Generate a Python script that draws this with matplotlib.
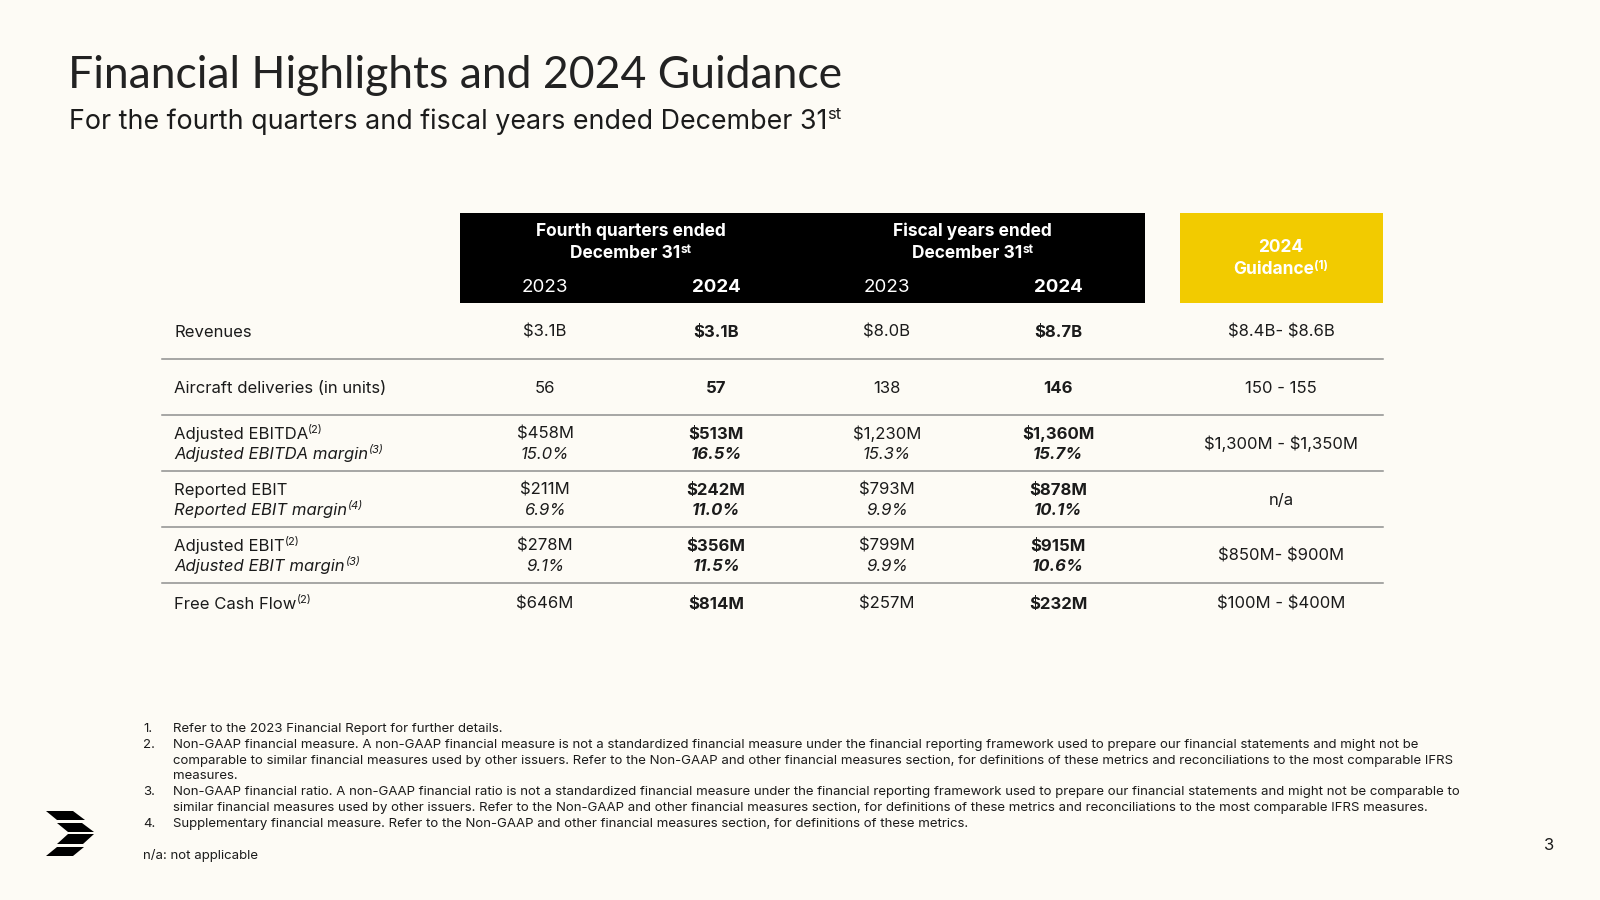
import matplotlib
matplotlib.use("Agg")
import matplotlib.pyplot as plt
from matplotlib.patches import Rectangle, Polygon

plt.rcParams['font.family'] = ['Inter', 'DejaVu Sans']

BG = '#fdfbf5'
INK = '#1b1b1b'
YELLOW = '#f2cb00'
RULE = '#8f8f8f'

# ---- data ----
row_labels = ["Revenues", "Aircraft deliveries (in units)", "Adjusted EBITDA",
              "Reported EBIT", "Adjusted EBIT", "Free Cash Flow"]
row_notes = [None, None, "(2)", None, "(2)", "(2)"]
margin_labels = [None, None, "Adjusted EBITDA margin", "Reported EBIT margin",
                 "Adjusted EBIT margin", None]
margin_notes = [None, None, "(3)", "(4)", "(3)", None]

q4_2023 = ["$3.1B", "56", "$458M", "$211M", "$278M", "$646M"]
q4_2024 = ["$3.1B", "57", "$513M", "$242M", "$356M", "$814M"]
fy_2023 = ["$8.0B", "138", "$1,230M", "$793M", "$799M", "$257M"]
fy_2024 = ["$8.7B", "146", "$1,360M", "$878M", "$915M", "$232M"]
q4_2023_margin = [None, None, "15.0%", "6.9%", "9.1%", None]
q4_2024_margin = [None, None, "16.5%", "11.0%", "11.5%", None]
fy_2023_margin = [None, None, "15.3%", "9.9%", "9.9%", None]
fy_2024_margin = [None, None, "15.7%", "10.1%", "10.6%", None]
guidance = ["$8.4B- $8.6B", "150 - 155", "$1,300M - $1,350M", "n/a",
            "$850M- $900M", "$100M - $400M"]

years = ["2023", "2024"]

footnotes = [
    ("1.", "Refer to the 2023 Financial Report for further details."),
    ("2.", "Non-GAAP financial measure. A non-GAAP financial measure is not a standardized financial measure under the financial reporting framework used to prepare our financial statements and might not be"),
    ("", "comparable to similar financial measures used by other issuers. Refer to the Non-GAAP and other financial measures section, for definitions of these metrics and reconciliations to the most comparable IFRS"),
    ("", "measures."),
    ("3.", "Non-GAAP financial ratio. A non-GAAP financial ratio is not a standardized financial measure under the financial reporting framework used to prepare our financial statements and might not be comparable to"),
    ("", "similar financial measures used by other issuers. Refer to the Non-GAAP and other financial measures section, for definitions of these metrics and reconciliations to the most comparable IFRS measures."),
    ("4.", "Supplementary financial measure. Refer to the Non-GAAP and other financial measures section, for definitions of these metrics."),
]

# ---- canvas in pixel coordinates ----
fig = plt.figure(figsize=(16, 9), dpi=100)
fig.patch.set_facecolor(BG)
ax = fig.add_axes([0, 0, 1, 1])
ax.set_xlim(0, 1600)
ax.set_ylim(900, 0)
ax.axis('off')
renderer = fig.canvas.get_renderer()


def text_sup(x, y, base, sup, ha='left', size=12, sup_size=8, rise=6, **kw):
    # base text plus a small raised note; y is the baseline
    t = ax.text(x, y, base, fontsize=size, ha='left', va='baseline',
                parse_math=False, **kw)
    w = t.get_window_extent(renderer).width
    s = ax.text(x + w, y - rise, sup, fontsize=sup_size, ha='left',
                va='baseline', parse_math=False, **kw)
    ws = s.get_window_extent(renderer).width
    if ha == 'center':
        shift = (w + ws) / 2
        t.set_x(x - shift)
        s.set_x(x - shift + w)


# title
ax.text(68, 88, "Financial Highlights and 2024 Guidance", fontsize=32,
        family=['Lato', 'DejaVu Sans'], color='#222222', va='baseline')
text_sup(69, 129, "For the fourth quarters and fiscal years ended December 31", "st",
         size=19.3, sup_size=12, rise=10, color=INK)

# header boxes
ax.add_patch(Rectangle((460, 213), 685, 90, color='black', lw=0))
ax.add_patch(Rectangle((1180, 213), 203, 90, color=YELLOW, lw=0))

col_x = [545, 716, 887, 1058]
guide_x = 1281
hdr = dict(color='white', fontweight='bold')
for cx, title in [((col_x[0] + col_x[1]) / 2, "Fourth quarters ended"),
                  ((col_x[2] + col_x[3]) / 2, "Fiscal years ended")]:
    ax.text(cx, 236, title, fontsize=12.5, ha='center', va='baseline', **hdr)
    text_sup(cx, 258, "December 31", "st", ha='center', size=12.5, sup_size=8.5,
             rise=5, **hdr)
for i, cx in enumerate(col_x):
    yr = years[i % 2]
    ax.text(cx, 292, yr, color='white', fontsize=13.5, ha='center', va='baseline',
            fontweight='bold' if yr == "2024" else 'normal')
ax.text(guide_x, 252, "2024", fontsize=12.5, ha='center', va='baseline', **hdr)
text_sup(guide_x, 274, "Guidance", "(1)", ha='center', size=12.5, sup_size=8.5,
         rise=5, **hdr)

# body rows
row_h = [56, 56, 56, 56, 56, 40]
top = 303
fs = 12
cap = 5
for i, label in enumerate(row_labels):
    h = row_h[i]
    yc = top + h / 2 + 1
    two = margin_labels[i] is not None
    y1 = (yc - 10 if two else yc) + cap

    if row_notes[i]:
        text_sup(174, y1, label, row_notes[i], size=fs, sup_size=8, rise=6, color=INK)
    else:
        ax.text(174, y1, label, fontsize=fs, color=INK, va='baseline')
    vals = [q4_2023[i], q4_2024[i], fy_2023[i], fy_2024[i]]
    for j, (cx, v) in enumerate(zip(col_x, vals)):
        ax.text(cx, y1, v, fontsize=fs, color=INK, ha='center', va='baseline',
                fontweight='bold' if j % 2 else 'normal', parse_math=False)
    ax.text(guide_x, yc + cap, guidance[i], fontsize=fs, color=INK, ha='center',
            va='baseline', parse_math=False)

    if two:
        y2 = yc + 10 + cap
        text_sup(174, y2, margin_labels[i], margin_notes[i], size=fs, sup_size=8,
                 rise=6, color=INK, style='italic')
        mvals = [q4_2023_margin[i], q4_2024_margin[i], fy_2023_margin[i], fy_2024_margin[i]]
        for j, (cx, v) in enumerate(zip(col_x, mvals)):
            ax.text(cx, y2, v, fontsize=fs, color=INK, ha='center', va='baseline',
                    style='italic', fontweight='bold' if j % 2 else 'normal',
                    parse_math=False)

    if i < len(row_labels) - 1:
        ax.plot([162, 1383], [top + h, top + h], color=RULE, lw=1.1)
    top += h

# footnotes
fy = 729
for num, txt in footnotes:
    if num:
        ax.text(143, fy, num, fontsize=9.5, color=INK, va='center')
    ax.text(173, fy, txt, fontsize=9.5, color=INK, va='center')
    fy += 15.8
ax.text(143, 856, "n/a: not applicable", fontsize=9.5, color=INK, va='center')

ax.text(1549, 846, "3", fontsize=12, color=INK, ha='center', va='center')

# logo
stripes = [
    [(46, 811), (73, 811), (85, 820), (57, 820)],
    [(57, 823), (82, 823), (94, 832), (68, 832)],
    [(68, 834), (94, 834), (83, 844), (57, 844)],
    [(57, 847), (84, 847), (73, 856), (46, 856)],
]
for pts in stripes:
    ax.add_patch(Polygon(pts, closed=True, color='black', lw=0))

fig.savefig("out.png", dpi=100, facecolor=BG)
